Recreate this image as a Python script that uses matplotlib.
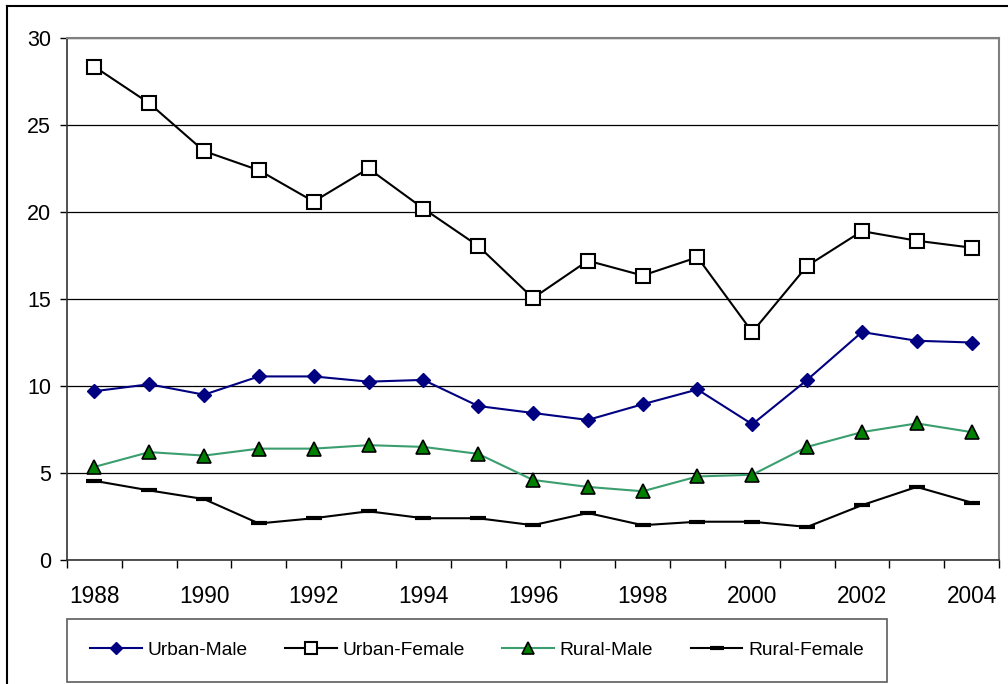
import numpy as np
import matplotlib
matplotlib.use("Agg")
import matplotlib.pyplot as plt
from matplotlib.lines import Line2D

plt.rcParams['font.family'] = ['Liberation Sans', 'DejaVu Sans']

years = list(range(1988, 2005))
urban_male = [9.7, 10.1, 9.5, 10.55, 10.55, 10.25, 10.35, 8.85, 8.45,
              8.05, 8.95, 9.8, 7.8, 10.35, 13.1, 12.6, 12.5]
urban_female = [28.35, 26.25, 23.5, 22.4, 20.6, 22.5, 20.2, 18.05, 15.05,
                17.2, 16.35, 17.4, 13.1, 16.9, 18.9, 18.35, 17.95]
rural_male = [5.35, 6.2, 6.0, 6.4, 6.4, 6.6, 6.5, 6.1, 4.6,
              4.2, 3.95, 4.8, 4.9, 6.5, 7.35, 7.85, 7.35]
rural_female = [4.55, 4.0, 3.5, 2.1, 2.4, 2.8, 2.4, 2.4, 2.0,
                2.7, 2.0, 2.2, 2.2, 1.9, 3.15, 4.2, 3.3]
labels = ['Urban-Male', 'Urban-Female', 'Rural-Male', 'Rural-Female']

W, H = 1008, 684
fig = plt.figure(figsize=(W / 100, H / 100), dpi=100)
ax = fig.add_axes([67 / W, 1 - 560 / H, (999 - 67) / W, (560 - 38) / H])

x = np.arange(len(years))
h1, = ax.plot(x, urban_male, color='#000080', lw=1.5, marker='D', ms=7.3,
              mfc='#000080', mec='#000080', label=labels[0], zorder=5)
h2, = ax.plot(x, urban_female, color='black', lw=1.5, marker='s', ms=9.5,
              mfc='white', mec='black', mew=1.5, label=labels[1], zorder=5)
h3, = ax.plot(x, rural_male, color='#3a9e6e', lw=1.5, marker='^', ms=10,
              mfc='#008000', mec='black', mew=1.2, label=labels[2], zorder=5)
h4, = ax.plot(x, rural_female, color='black', lw=1.5, marker='_', ms=11.5,
              mew=3.0, label=labels[3], zorder=5)

ax.set_xlim(-0.5, len(years) - 0.5)
ax.set_ylim(0, 30)
ax.set_yticks(np.arange(0, 31, 5))
ax.yaxis.grid(True, color='black', lw=0.9)
ax.set_axisbelow(True)
ax.tick_params(axis='y', length=5, width=1, pad=6.5, labelsize=15.5, colors='black')

ax.set_xticks(x[::2])
ax.set_xticklabels([str(y) for y in years[::2]])
ax.set_xticks(np.arange(-0.5, len(years)), minor=True)
ax.tick_params(axis='x', which='major', length=0, pad=18, labelsize=16.3)
ax.tick_params(axis='x', which='minor', length=6, width=1)

for s in ['top', 'right']:
    ax.spines[s].set_color('#808080')
    ax.spines[s].set_linewidth(1.5)
for s in ['left', 'bottom']:
    ax.spines[s].set_color('#333333')
    ax.spines[s].set_linewidth(1.2)

leg = fig.legend(handles=[h1, h2, h3, h4], ncol=4, loc='lower left',
                 bbox_to_anchor=(67 / W, 2 / H), borderaxespad=0,
                 fontsize=13.8, handlelength=2.7, handletextpad=0.3,
                 columnspacing=1.95, borderpad=1.2, fancybox=False,
                 markerscale=0.85)
leg.get_frame().set_edgecolor('#333333')
leg.get_frame().set_linewidth(1.2)

# outer chart border (partly cut off in the original)
fig.add_artist(Line2D([7 / W, 1], [1 - 6 / H, 1 - 6 / H], color='black',
                      lw=1.5, transform=fig.transFigure))
fig.add_artist(Line2D([7 / W, 7 / W], [0, 1 - 6 / H], color='black',
                      lw=1.5, transform=fig.transFigure))

fig.savefig('out.png', dpi=100)
